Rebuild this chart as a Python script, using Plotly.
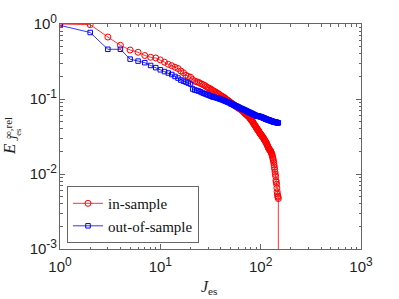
import plotly.graph_objects as go

J_in = list(range(1, 152))
E_in = [
    1.0, 0.98, 0.67, 0.52, 0.45, 0.42, 0.38, 0.36, 0.352, 0.332,
    0.31, 0.29, 0.278, 0.265, 0.255, 0.236, 0.224, 0.207, 0.2, 0.195,
    0.181, 0.173, 0.17, 0.167, 0.162, 0.158, 0.154, 0.15, 0.145, 0.141,
    0.138, 0.135, 0.131, 0.128, 0.125, 0.122, 0.12, 0.117, 0.114, 0.111,
    0.109, 0.107, 0.105, 0.103, 0.1, 0.098, 0.096, 0.094, 0.092, 0.09,
    0.088, 0.087, 0.085, 0.084, 0.082, 0.081, 0.08, 0.078, 0.077, 0.076,
    0.075, 0.074, 0.073, 0.072, 0.071, 0.069, 0.068, 0.067, 0.065, 0.064,
    0.063, 0.062, 0.061, 0.06, 0.059, 0.058, 0.057, 0.056, 0.054, 0.053,
    0.052, 0.051, 0.05, 0.049, 0.047, 0.046, 0.045, 0.044, 0.043, 0.042,
    0.041, 0.04, 0.039, 0.0385, 0.038, 0.037, 0.036, 0.035, 0.0345, 0.034,
    0.0335, 0.033, 0.032, 0.0315, 0.031, 0.0305, 0.030, 0.029, 0.0285, 0.028,
    0.0275, 0.027, 0.0265, 0.026, 0.025, 0.0245, 0.024, 0.0232, 0.0226, 0.022,
    0.0217, 0.0213, 0.021, 0.0207, 0.0205, 0.0200, 0.0195, 0.019, 0.0186, 0.018,
    0.0172, 0.0165, 0.0158, 0.015, 0.0142, 0.0132, 0.0123, 0.0115, 0.0106, 0.0099,
    0.0093, 0.0082, 0.0078, 0.0073, 0.0065, 0.0058, 0.0054, 0.0051, 0.0049, 0.0047,
    1e-16,
]

J_out = list(range(1, 151))
E_out = [
    0.96, 0.77, 0.46, 0.46, 0.34, 0.32, 0.305, 0.28, 0.262, 0.245,
    0.232, 0.222, 0.212, 0.2, 0.19, 0.179, 0.173, 0.168, 0.163, 0.158,
    0.136, 0.132, 0.13, 0.128, 0.125, 0.122, 0.119, 0.117, 0.115, 0.113,
    0.111, 0.109, 0.107, 0.106, 0.105, 0.104, 0.103, 0.102, 0.1, 0.099,
    0.098, 0.097, 0.096, 0.094, 0.093, 0.092, 0.091, 0.09, 0.089, 0.087,
    0.086, 0.085, 0.084, 0.083, 0.082, 0.081, 0.08, 0.08, 0.079, 0.078,
    0.077, 0.076, 0.075, 0.075, 0.074, 0.073, 0.073, 0.072, 0.071, 0.071,
    0.070, 0.069, 0.069, 0.068, 0.067, 0.067, 0.066, 0.066, 0.065, 0.065,
    0.064, 0.064, 0.063, 0.063, 0.062, 0.062, 0.061, 0.061, 0.0605, 0.060,
    0.0598, 0.0596, 0.0594, 0.0592, 0.059, 0.0588, 0.0586, 0.0584, 0.0582, 0.058,
    0.0577, 0.0574, 0.0571, 0.0568, 0.0565, 0.0562, 0.0559, 0.0556, 0.0553, 0.055,
    0.0547, 0.0544, 0.0541, 0.0538, 0.0535, 0.0533, 0.0531, 0.0529, 0.0527, 0.0525,
    0.0523, 0.0521, 0.0519, 0.0517, 0.0515, 0.0513, 0.0511, 0.0509, 0.0507, 0.0505,
    0.0503, 0.0501, 0.0499, 0.0497, 0.0495, 0.0494, 0.0493, 0.0492, 0.0491, 0.049,
    0.0489, 0.0488, 0.0487, 0.0486, 0.0485, 0.0484, 0.0483, 0.0482, 0.0481, 0.048,
]

def sup(base, exp):
    return f"{base}<sup><span style='font-size:12px'>{exp}</span></sup>"

x_ticks = [1, 10, 100, 1000]
x_ticktext = [sup("10", "0"), sup("10", "1"), sup("10", "2"), sup("10", "3")]
y_ticks = [1e-3, 1e-2, 1e-1, 1]
y_ticktext = [sup("10", "-3"), sup("10", "-2"), sup("10", "-1"), sup("10", "0")]
x_minor = [m * 10 ** k for k in range(0, 3) for m in range(2, 10)]
y_minor = [m * 10.0 ** k for k in range(-3, 0) for m in range(2, 10)]

fig = go.Figure()
fig.add_trace(go.Scatter(
    x=J_in, y=E_in, mode="lines+markers", name="in-sample",
    line=dict(color="#ff0000", width=0.8),
    marker=dict(symbol="circle-open", size=6, color="#ff0000", line=dict(width=1)),
))
fig.add_trace(go.Scatter(
    x=J_out, y=E_out, mode="lines+markers", name="out-of-sample",
    line=dict(color="#0000ff", width=0.8),
    marker=dict(symbol="square-open", size=4.5, color="#0000ff", line=dict(width=1)),
))

axis_common = dict(
    type="log", showgrid=False, zeroline=False,
    showline=True, linecolor="#666666", linewidth=1, mirror="allticks",
    ticks="inside", ticklen=5, tickcolor="#666666", tickwidth=1,
    tickfont=dict(family="Liberation Sans, Arial", size=15, color="#222222"),
)

fig.update_xaxes(range=[0, 3], tickvals=x_ticks, ticktext=x_ticktext,
                 ticklabelstandoff=4,
                 minor=dict(ticks="inside", ticklen=2.5, tickcolor="#666666",
                            tickmode="array", tickvals=x_minor, showgrid=False),
                 **axis_common)
fig.update_yaxes(range=[-3, 0], tickvals=y_ticks, ticktext=y_ticktext,
                 ticklabelstandoff=-1,
                 minor=dict(ticks="inside", ticklen=2.5, tickcolor="#666666",
                            tickmode="array", tickvals=y_minor, showgrid=False),
                 **axis_common)

PL, PR, PT, PB = 60, 38, 22, 50
W, H = 399, 299
pw, ph = W - PL - PR, H - PT - PB

def px(xp):
    return (xp - PL) / pw

def py(yp):
    return (H - PB - yp) / ph

serif = "Liberation Serif, Times New Roman, serif"
annotations = [
    dict(text="<i>E</i>", x=px(10), y=py(148), textangle=-90, xanchor="center",
         font=dict(family=serif, size=17, color="#222")),
    dict(text="∞,rel", x=px(0), y=py(127), textangle=-90, xanchor="left",
         font=dict(family=serif, size=11, color="#222")),
    dict(text="<i>J</i><sub>es</sub>", x=px(15), y=py(134), textangle=-90, xanchor="center",
         font=dict(family=serif, size=12, color="#222")),
    dict(text="<i>J</i><sub>es</sub>", x=px(209), y=py(288), xanchor="center",
         font=dict(family=serif, size=16, color="#222")),
]
for a in annotations:
    a.update(xref="paper", yref="paper", showarrow=False, yanchor="middle")

fig.update_layout(
    width=W, height=H,
    margin=dict(l=PL, r=PR, t=PT, b=PB),
    paper_bgcolor="white", plot_bgcolor="white",
    showlegend=True,
    legend=dict(
        x=px(67), y=py(243), xanchor="left", yanchor="bottom",
        bgcolor="white", bordercolor="#666666", borderwidth=1,
        font=dict(family=serif, size=15, color="#111"),
        tracegroupgap=0, itemwidth=30,
    ),
    annotations=annotations,
)

fig.write_html("out.html", config={"displayModeBar": False},
               post_script="document.body.style.margin='0px';")
